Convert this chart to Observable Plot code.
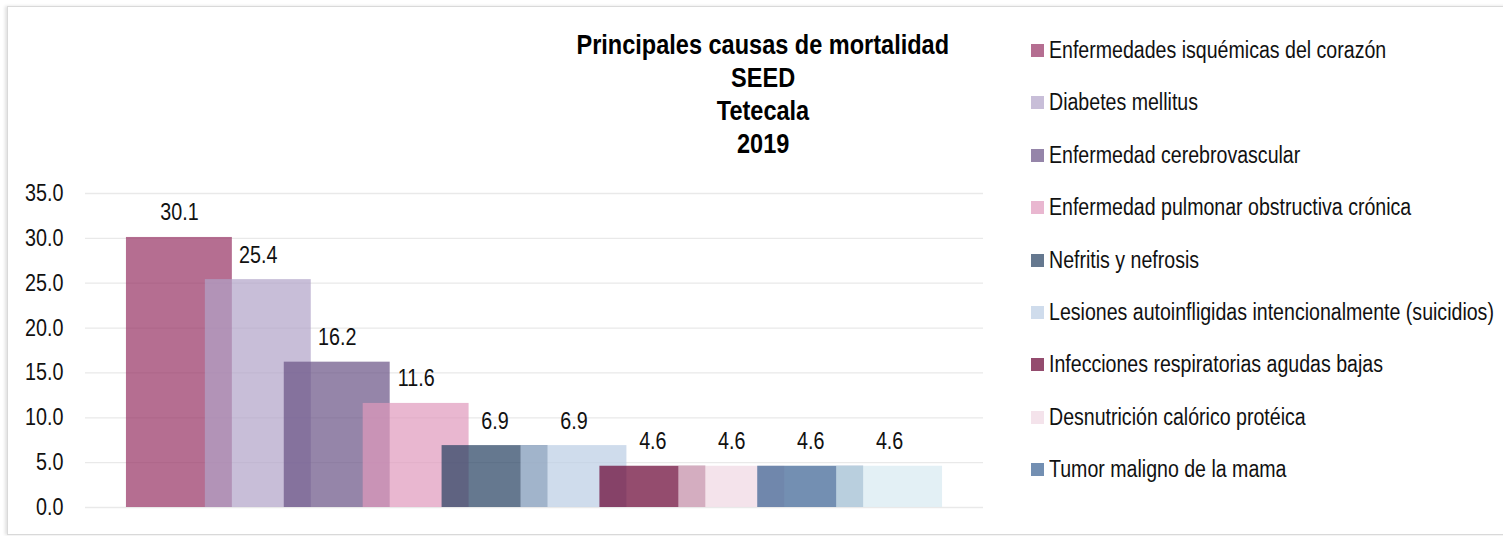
<!DOCTYPE html>
<html>
<head>
<meta charset="utf-8">
<script src="https://cdn.jsdelivr.net/npm/d3@7"></script>
<script src="https://cdn.jsdelivr.net/npm/@observablehq/plot@0.6"></script>
<style>
  html, body { margin: 0; padding: 0; background: #fff; }
  body { width: 1503px; height: 536px; overflow: hidden; position: relative;
         font-family: "Liberation Sans", Arial, sans-serif; color: #111; }
  #frame { position: absolute; left: 7px; top: 6px; width: 1600px; height: 527px;
           border: 1px solid #d9d9d9; border-right: none; box-shadow: -2px 0 3px rgba(0,0,0,0.12); }
  #chart { position: absolute; left: 0; top: 0; }
  #title { position: absolute; left: 513px; top: 28px; width: 500px; text-align: center;
           font-weight: bold; font-size: 28px; line-height: 33px; color: #000; }
  #title span { display: inline-block; transform: scaleX(0.84); transform-origin: center; white-space: nowrap; }
  #legend { position: absolute; left: 1031px; top: 24.3px; }
  .row { height: 52.4px; display: flex; align-items: center; font-size: 23.3px; color: #111; white-space: nowrap; }
  .sw { width: 13px; height: 13px; margin-right: 5px; flex: none; }
  .lab { display: inline-block; transform: scaleX(0.84); transform-origin: left center; }
</style>
</head>
<body>
<div id="frame"></div>
<div id="chart"></div>
<div id="title"></div>
<div id="legend"></div>
<script>
const titleLines = ["Principales causas de mortalidad", "SEED", "Tetecala", "2019"];

const causes = [
  "Enfermedades isquémicas del corazón",
  "Diabetes mellitus",
  "Enfermedad cerebrovascular",
  "Enfermedad pulmonar obstructiva crónica",
  "Nefritis y nefrosis",
  "Lesiones autoinfligidas intencionalmente (suicidios)",
  "Infecciones respiratorias agudas bajas",
  "Desnutrición calórico protéica",
  "Tumor maligno de la mama",
  "Décima causa (sin leyenda)"
];
const values = [30.1, 25.4, 16.2, 11.6, 6.9, 6.9, 4.6, 4.6, 4.6, 4.6];
const colors = ["#953062", "#B0A2C7", "#685184", "#E098BC", "#243E5F",
                "#BACDE4", "#660031", "#EFD7E2", "#386092", "#D7EAF1"];
const legendCauses = causes.slice(0, 9);
const yTicks = [0, 5, 10, 15, 20, 25, 30, 35];

const data = causes.map((c, i) => ({cause: c, value: values[i]}));
const font = '"Liberation Sans", Arial, sans-serif';
const squeeze = 0.84;

const chart = Plot.plot({
  width: 1000,
  height: 536,
  marginTop: 193,
  marginBottom: 29,
  marginLeft: 85,
  marginRight: 17,
  style: {fontFamily: font, fontSize: "23.5px", color: "#111", background: "transparent"},
  x: {domain: causes, paddingInner: 0, paddingOuter: 0.69, round: false, axis: null},
  y: {domain: [0, 35]},
  color: {domain: causes, range: colors},
  marks: [
    Plot.gridY(yTicks, {stroke: "#e9e9e9", strokeOpacity: 1, strokeWidth: 1.3}),
    Plot.axisY(yTicks, {tickSize: 0, tickPadding: 22, tickFormat: d => d.toFixed(1), fontSize: 23.5, fill: "#111", label: null}),
    Plot.barY(data, {x: "cause", y: "value", fill: "cause", fillOpacity: 0.7, insetLeft: -13.5, insetRight: -13.5}),
    Plot.text(data, {x: "cause", y: "value", text: d => d.value.toFixed(1), dy: -24.5, fontSize: 23.5, fill: "#111"})
  ]
});
// narrow the glyphs horizontally around each text's anchor point
chart.querySelectorAll("text").forEach(t => {
  const x = +(t.getAttribute("x") || 0);
  const tr = t.getAttribute("transform") || "";
  t.setAttribute("transform", `${tr} translate(${x},0) scale(${squeeze},1) translate(${-x},0)`);
});
document.getElementById("chart").appendChild(chart);

document.getElementById("title").innerHTML = titleLines.map(t => `<div><span>${t}</span></div>`).join("");

const legend = document.getElementById("legend");
legendCauses.forEach((c, i) => {
  const row = document.createElement("div");
  row.className = "row";
  const sw = document.createElement("span");
  sw.className = "sw";
  sw.style.background = colors[i];
  sw.style.opacity = 0.7;
  const lab = document.createElement("span");
  lab.className = "lab";
  lab.textContent = c;
  row.appendChild(sw);
  row.appendChild(lab);
  legend.appendChild(row);
});
</script>
</body>
</html>
